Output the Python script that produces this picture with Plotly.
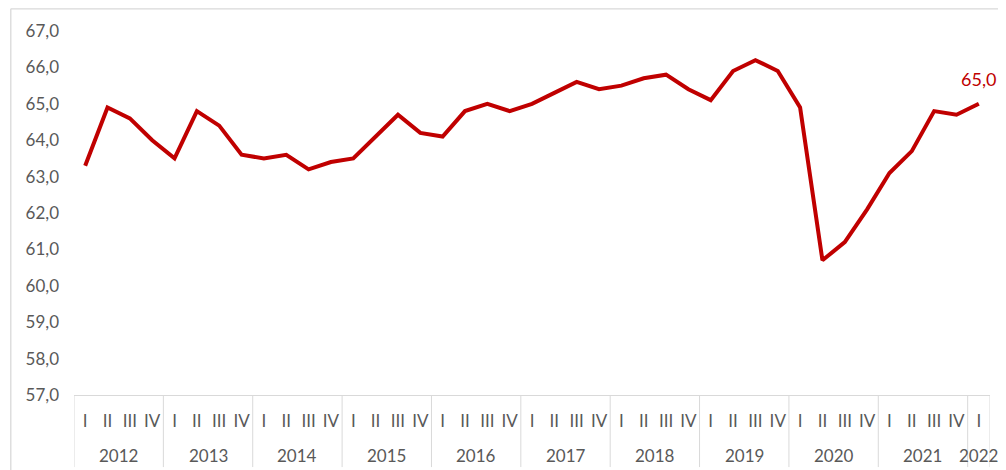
import plotly.graph_objects as go

years = ["2012"] * 4 + ["2013"] * 4 + ["2014"] * 4 + ["2015"] * 4 + ["2016"] * 4 + \
        ["2017"] * 4 + ["2018"] * 4 + ["2019"] * 4 + ["2020"] * 4 + ["2021"] * 4 + ["2022"]
quarters = ["I", "II", "III", "IV"] * 10 + ["I"]
values = [63.3, 64.9, 64.6, 64.0,
          63.5, 64.8, 64.4, 63.6,
          63.5, 63.6, 63.2, 63.4,
          63.5, 64.1, 64.7, 64.2,
          64.1, 64.8, 65.0, 64.8,
          65.0, 65.3, 65.6, 65.4,
          65.5, 65.7, 65.8, 65.4,
          65.1, 65.9, 66.2, 65.9,
          64.9, 60.7, 61.2, 62.1,
          63.1, 63.7, 64.8, 64.7,
          65.0]
y_ticks = [57, 58, 59, 60, 61, 62, 63, 64, 65, 66, 67]

RED = "#C00000"
GRID = "#D9D9D9"
TXT = "#595959"
FONT = "Lato"

idx = list(range(len(values)))

fig = go.Figure()
fig.add_trace(go.Scatter(
    x=idx, y=values, mode="lines",
    line=dict(color=RED, width=4),
    hoverinfo="skip", showlegend=False,
))

last_label = f"{values[-1]:.1f}".replace(".", ",")
fig.add_annotation(
    x=idx[-1], y=values[-1], text=last_label,
    showarrow=False, yshift=25, font=dict(family=FONT, size=18, color=RED),
)

# year groups: labels and dividers
groups = []
for i, yr in enumerate(years):
    if not groups or groups[-1][0] != yr:
        groups.append([yr, i, i])
    else:
        groups[-1][2] = i
for yr, a, b in groups:
    fig.add_annotation(
        x=(a + b) / 2, xref="x", y=-0.165, yref="paper", yanchor="middle",
        text=yr, showarrow=False, font=dict(family=FONT, size=17, color=TXT),
    )
    fig.add_shape(type="line", xref="x", yref="paper", x0=a - 0.5, x1=a - 0.5,
                  y0=0, y1=-0.198, line=dict(color=GRID, width=1))
last_b = groups[-1][2]
fig.add_shape(type="line", xref="x", yref="paper", x0=last_b + 0.5, x1=last_b + 0.5,
              y0=0, y1=-0.198, line=dict(color=GRID, width=1))

# outer chart frame (left and top edges visible in the crop)
fig.add_shape(type="line", xref="paper", yref="paper", x0=-0.069, x1=1.05,
              y0=1.061, y1=1.061, line=dict(color=GRID, width=1.3))
fig.add_shape(type="line", xref="paper", yref="paper", x0=-0.069, x1=-0.069,
              y0=1.061, y1=-0.3, line=dict(color=GRID, width=1.3))

fig.update_layout(
    width=998, height=462,
    margin=dict(l=66, r=16, t=23, b=75),
    paper_bgcolor="white", plot_bgcolor="white",
    separators=", ",
    font=dict(family=FONT, size=17, color=TXT),
)
fig.update_xaxes(
    range=[-0.5, len(values) - 0.5],
    tickmode="array", tickvals=idx, ticktext=quarters,
    showline=True, linecolor=GRID, linewidth=1,
    showgrid=False, zeroline=False, ticks="", tickangle=0,
    ticklabelstandoff=11,
    tickfont=dict(family=FONT, size=17, color=TXT),
)
fig.update_yaxes(
    range=[y_ticks[0], y_ticks[-1]], tickvals=y_ticks, tickformat=".1f",
    showgrid=False, zeroline=False, showline=False, ticks="",
    ticklabelstandoff=14,
    tickfont=dict(family=FONT, size=17, color=TXT),
)

fig.write_html("out.html")
